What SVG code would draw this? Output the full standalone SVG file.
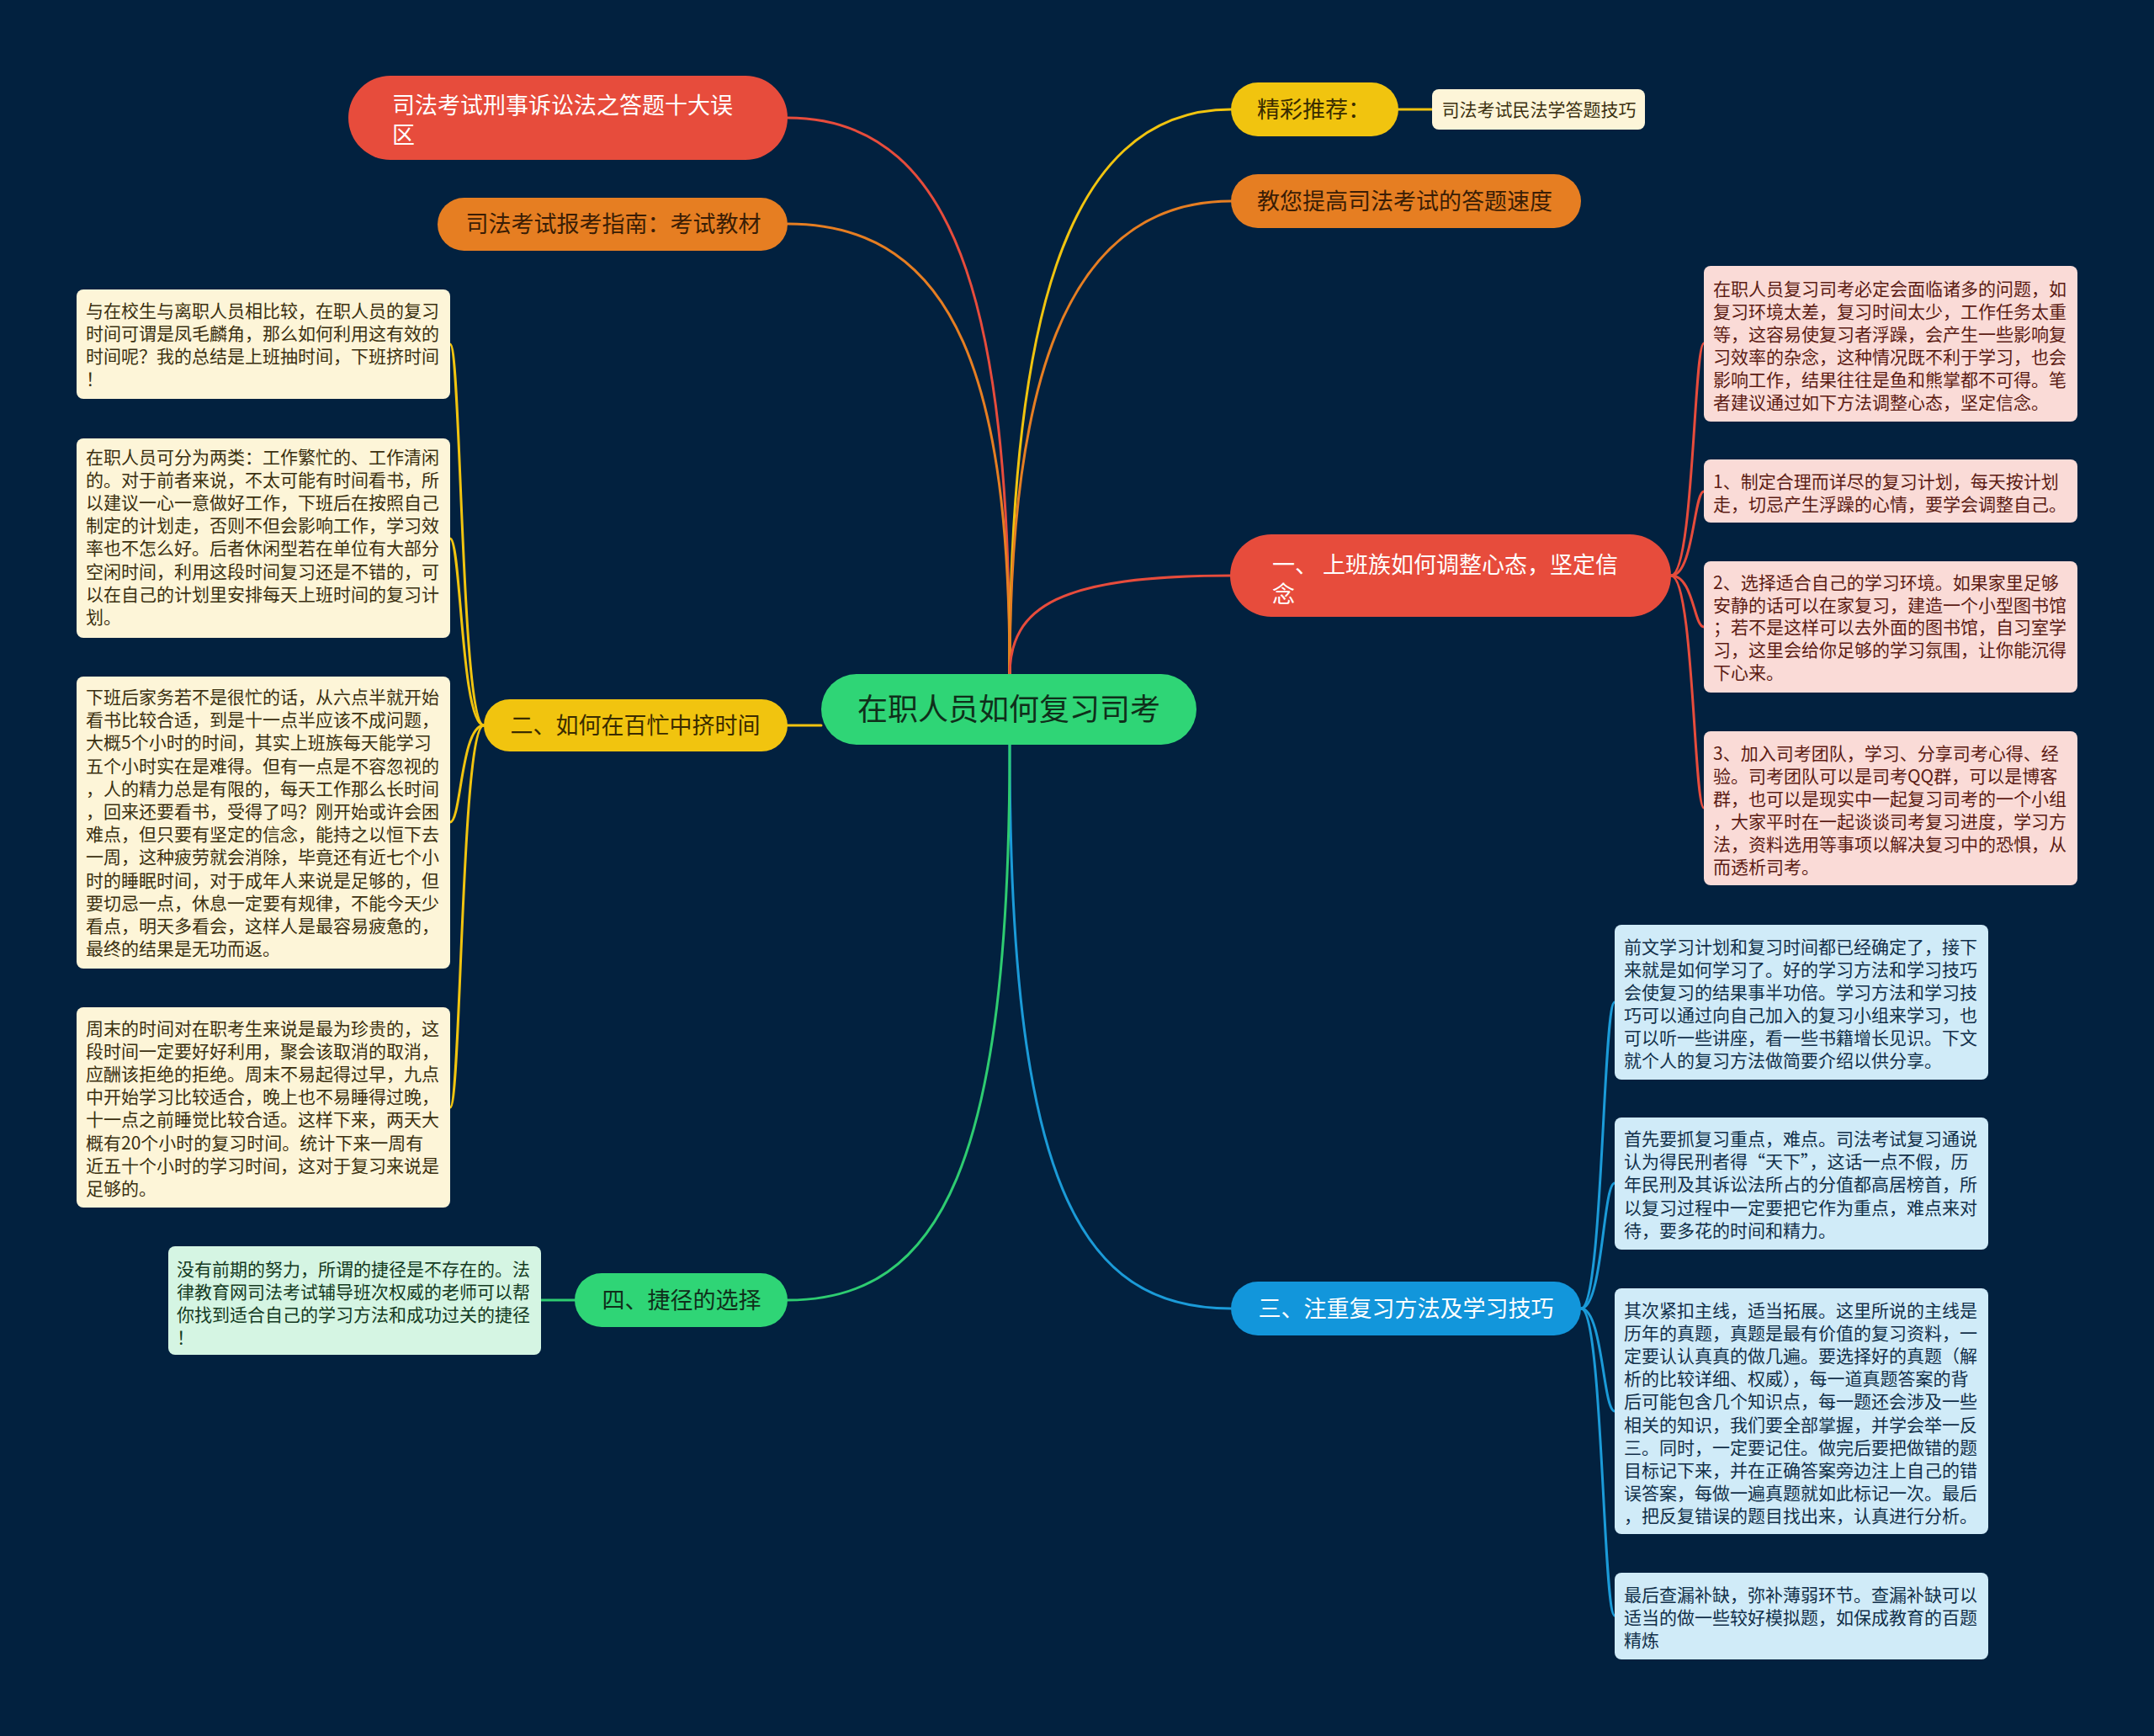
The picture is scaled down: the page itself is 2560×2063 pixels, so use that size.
<svg xmlns="http://www.w3.org/2000/svg" width="2560" height="2063" viewBox="0 0 2560 2063">
<style>
text{font-family:"Noto Sans CJK SC","Noto Sans",sans-serif}
.bg{fill:#02213f}
.c{fill:none;stroke-width:3;stroke-linecap:round}
.red{stroke:#e74c3c}.org{stroke:#e67e22}.yel{stroke:#f1c40f}.blu{stroke:#1b9bd8}.grn{stroke:#2ecc71}
.t27{font-size:27px}
.t21{font-size:21px}
.leafY{fill:#fdf5d8}.leafR{fill:#fadbd7}.leafB{fill:#d0ebf8}.leafG{fill:#d5f5e3}
.tY{fill:#3b3010}.tR{fill:#5c1c14}.tB{fill:#12304a}.tG{fill:#143a22}
</style>
<rect class="bg" x="0" y="0" width="2560" height="2063"/>
<g id="connectors">
<path class="c red" d="M1200 803 C1200 400 1150 140 936 140"/>
<path class="c org" d="M1200 803 C1200 460 1140 266 936 266"/>
<path class="c yel" d="M1200 803 C1200 400 1260 130 1463 130"/>
<path class="c org" d="M1200 803 C1200 470 1260 239 1463 239"/>
<path class="c red" d="M1200 803 C1200 720 1260 684 1463 684"/>
<path class="c yel" d="M936 862 L976 862"/>
<path class="c blu" d="M1200 885 C1200 1400 1280 1555 1463 1555"/>
<path class="c grn" d="M1200 885 C1200 1380 1120 1545 936 1545"/>
<path class="c yel" d="M1662 130 L1702 130"/>
<path class="c grn" d="M683 1545 L643 1545"/>
<path class="c red" d="M1986 684 C2013 684 2013 408 2025 408"/>
<path class="c red" d="M1986 684 C2013 684 2013 584 2025 584"/>
<path class="c red" d="M1986 684 C2013 684 2013 745 2025 745"/>
<path class="c red" d="M1986 684 C2013 684 2013 960 2025 960"/>
<path class="c blu" d="M1879 1555 C1905 1555 1905 1191 1919 1191"/>
<path class="c blu" d="M1879 1555 C1905 1555 1905 1406 1919 1406"/>
<path class="c blu" d="M1879 1555 C1905 1555 1905 1677 1919 1677"/>
<path class="c blu" d="M1879 1555 C1905 1555 1905 1920 1919 1920"/>
<path class="c yel" d="M575 862 C548 862 548 409 535 409"/>
<path class="c yel" d="M575 862 C548 862 548 640 535 640"/>
<path class="c yel" d="M575 862 C548 862 548 977 535 977"/>
<path class="c yel" d="M575 862 C548 862 548 1316 535 1316"/>
</g>
<g id="center">
<rect x="976" y="801" width="446" height="84" rx="42" fill="#2fd576"/>
<text x="1199" y="856" font-size="36" text-anchor="middle" fill="#0f2f1a">在职人员如何复习司考</text>
</g>
<g id="n-left-red">
<rect x="414" y="90" width="522" height="100" rx="50" fill="#e74c3c"/>
<text class="t27" fill="#fff"><tspan x="466" y="135">司法考试刑事诉讼法之答题十大误</tspan><tspan x="466" y="170">区</tspan></text>
</g>
<g id="n-left-orange">
<rect x="520" y="235" width="416" height="63" rx="31.5" fill="#e67e22"/>
<text class="t27" x="729" y="276" text-anchor="middle" fill="#3a1d05">司法考试报考指南：考试教材</text>
</g>
<g id="n-left-yellow">
<rect x="575" y="831" width="361" height="62" rx="31" fill="#f1c40f"/>
<text class="t27" x="755" y="872" text-anchor="middle" fill="#3a2c00">二、如何在百忙中挤时间</text>
</g>
<g id="n-left-green">
<rect x="683" y="1513" width="253" height="64" rx="32" fill="#2fd576"/>
<text class="t27" x="810" y="1555" text-anchor="middle" fill="#0f2f1a">四、捷径的选择</text>
</g>
<g id="n-right-yellow">
<rect x="1463" y="98" width="199" height="64" rx="32" fill="#f1c40f"/>
<text class="t27" x="1494" y="140" fill="#3a2c00">精彩推荐：</text>
</g>
<g id="leaf-recommend">
<rect x="1702" y="106" width="253" height="48" rx="8" class="leafY"/>
<text class="t21 tY" x="1829" y="138" text-anchor="middle">司法考试民法学答题技巧</text>
</g>
<g id="n-right-orange">
<rect x="1463" y="207" width="416" height="64" rx="32" fill="#e67e22"/>
<text class="t27" x="1494" y="249" fill="#3a1d05">教您提高司法考试的答题速度</text>
</g>
<g id="n-right-red">
<rect x="1462" y="635" width="524" height="98" rx="49" fill="#e74c3c"/>
<text class="t27" fill="#fff"><tspan x="1512" y="681">一、 上班族如何调整心态，坚定信</tspan><tspan x="1512" y="716">念</tspan></text>
</g>
<g id="n-right-blue">
<rect x="1463" y="1523" width="416" height="64" rx="32" fill="#1296db"/>
<text class="t27" x="1671" y="1565" text-anchor="middle" fill="#fff">三、注重复习方法及学习技巧</text>
</g>
<g id="leaf-y1">
<rect x="91" y="344" width="444" height="130" rx="8" class="leafY"/>
<text class="t21 tY"><tspan x="102" y="377">与在校生与离职人员相比较，在职人员的复习</tspan><tspan x="102" dy="27">时间可谓是凤毛麟角，那么如何利用这有效的</tspan><tspan x="102" dy="27">时间呢？我的总结是上班抽时间，下班挤时间</tspan><tspan x="102" dy="27">！</tspan></text>
</g>
<g id="leaf-y2">
<rect x="91" y="521" width="444" height="237" rx="8" class="leafY"/>
<text class="t21 tY"><tspan x="102" y="551">在职人员可分为两类：工作繁忙的、工作清闲</tspan><tspan x="102" dy="27.1">的。对于前者来说，不太可能有时间看书，所</tspan><tspan x="102" dy="27.1">以建议一心一意做好工作，下班后在按照自己</tspan><tspan x="102" dy="27.1">制定的计划走，否则不但会影响工作，学习效</tspan><tspan x="102" dy="27.1">率也不怎么好。后者休闲型若在单位有大部分</tspan><tspan x="102" dy="27.1">空闲时间，利用这段时间复习还是不错的，可</tspan><tspan x="102" dy="27.1">以在自己的计划里安排每天上班时间的复习计</tspan><tspan x="102" dy="27.1">划。</tspan></text>
</g>
<g id="leaf-y3">
<rect x="91" y="804" width="444" height="347" rx="8" class="leafY"/>
<text class="t21 tY"><tspan x="102" y="836">下班后家务若不是很忙的话，从六点半就开始</tspan><tspan x="102" dy="27.2">看书比较合适，到是十一点半应该不成问题，</tspan><tspan x="102" dy="27.2">大概5个小时的时间，其实上班族每天能学习</tspan><tspan x="102" dy="27.2">五个小时实在是难得。但有一点是不容忽视的</tspan><tspan x="102" dy="27.2">，人的精力总是有限的，每天工作那么长时间</tspan><tspan x="102" dy="27.2">，回来还要看书，受得了吗？刚开始或许会困</tspan><tspan x="102" dy="27.2">难点，但只要有坚定的信念，能持之以恒下去</tspan><tspan x="102" dy="27.2">一周，这种疲劳就会消除，毕竟还有近七个小</tspan><tspan x="102" dy="27.2">时的睡眠时间，对于成年人来说是足够的，但</tspan><tspan x="102" dy="27.2">要切忌一点，休息一定要有规律，不能今天少</tspan><tspan x="102" dy="27.2">看点，明天多看会，这样人是最容易疲惫的，</tspan><tspan x="102" dy="27.2">最终的结果是无功而返。</tspan></text>
</g>
<g id="leaf-y4">
<rect x="91" y="1197" width="444" height="238" rx="8" class="leafY"/>
<text class="t21 tY"><tspan x="102" y="1230">周末的时间对在职考生来说是最为珍贵的，这</tspan><tspan x="102" dy="27.1">段时间一定要好好利用，聚会该取消的取消，</tspan><tspan x="102" dy="27.1">应酬该拒绝的拒绝。周末不易起得过早，九点</tspan><tspan x="102" dy="27.1">中开始学习比较适合，晚上也不易睡得过晚，</tspan><tspan x="102" dy="27.1">十一点之前睡觉比较合适。这样下来，两天大</tspan><tspan x="102" dy="27.1">概有20个小时的复习时间。统计下来一周有</tspan><tspan x="102" dy="27.1">近五十个小时的学习时间，这对于复习来说是</tspan><tspan x="102" dy="27.1">足够的。</tspan></text>
</g>
<g id="leaf-g1">
<rect x="200" y="1481" width="443" height="129" rx="8" class="leafG"/>
<text class="t21 tG"><tspan x="210" y="1516">没有前期的努力，所谓的捷径是不存在的。法</tspan><tspan x="210" dy="27">律教育网司法考试辅导班次权威的老师可以帮</tspan><tspan x="210" dy="27">你找到适合自己的学习方法和成功过关的捷径</tspan><tspan x="210" dy="27">！</tspan></text>
</g>
<g id="leaf-r1">
<rect x="2025" y="316" width="444" height="185" rx="8" class="leafR"/>
<text class="t21 tR"><tspan x="2036" y="351">在职人员复习司考必定会面临诸多的问题，如</tspan><tspan x="2036" dy="27">复习环境太差，复习时间太少，工作任务太重</tspan><tspan x="2036" dy="27">等，这容易使复习者浮躁，会产生一些影响复</tspan><tspan x="2036" dy="27">习效率的杂念，这种情况既不利于学习，也会</tspan><tspan x="2036" dy="27">影响工作，结果往往是鱼和熊掌都不可得。笔</tspan><tspan x="2036" dy="27">者建议通过如下方法调整心态，坚定信念。</tspan></text>
</g>
<g id="leaf-r2">
<rect x="2025" y="546" width="444" height="75" rx="8" class="leafR"/>
<text class="t21 tR"><tspan x="2036" y="580">1、制定合理而详尽的复习计划，每天按计划</tspan><tspan x="2036" dy="27">走，切忌产生浮躁的心情，要学会调整自己。</tspan></text>
</g>
<g id="leaf-r3">
<rect x="2025" y="667" width="444" height="156" rx="8" class="leafR"/>
<text class="t21 tR"><tspan x="2036" y="700">2、选择适合自己的学习环境。如果家里足够</tspan><tspan x="2036" dy="26.7">安静的话可以在家复习，建造一个小型图书馆</tspan><tspan x="2036" dy="26.7">；若不是这样可以去外面的图书馆，自习室学</tspan><tspan x="2036" dy="26.7">习，这里会给你足够的学习氛围，让你能沉得</tspan><tspan x="2036" dy="26.7">下心来。</tspan></text>
</g>
<g id="leaf-r4">
<rect x="2025" y="869" width="444" height="183" rx="8" class="leafR"/>
<text class="t21 tR"><tspan x="2036" y="903">3、加入司考团队，学习、分享司考心得、经</tspan><tspan x="2036" dy="27">验。司考团队可以是司考QQ群，可以是博客</tspan><tspan x="2036" dy="27">群，也可以是现实中一起复习司考的一个小组</tspan><tspan x="2036" dy="27">，大家平时在一起谈谈司考复习进度，学习方</tspan><tspan x="2036" dy="27">法，资料选用等事项以解决复习中的恐惧，从</tspan><tspan x="2036" dy="27">而透析司考。</tspan></text>
</g>
<g id="leaf-b1">
<rect x="1919" y="1099" width="444" height="184" rx="8" class="leafB"/>
<text class="t21 tB"><tspan x="1930" y="1133">前文学习计划和复习时间都已经确定了，接下</tspan><tspan x="1930" dy="27">来就是如何学习了。好的学习方法和学习技巧</tspan><tspan x="1930" dy="27">会使复习的结果事半功倍。学习方法和学习技</tspan><tspan x="1930" dy="27">巧可以通过向自己加入的复习小组来学习，也</tspan><tspan x="1930" dy="27">可以听一些讲座，看一些书籍增长见识。下文</tspan><tspan x="1930" dy="27">就个人的复习方法做简要介绍以供分享。</tspan></text>
</g>
<g id="leaf-b2">
<rect x="1919" y="1328" width="444" height="157" rx="8" class="leafB"/>
<text class="t21 tB"><tspan x="1930" y="1361">首先要抓复习重点，难点。司法考试复习通说</tspan><tspan x="1930" dy="27.2">认为得民刑者得“天下”，这话一点不假，历</tspan><tspan x="1930" dy="27.2">年民刑及其诉讼法所占的分值都高居榜首，所</tspan><tspan x="1930" dy="27.2">以复习过程中一定要把它作为重点，难点来对</tspan><tspan x="1930" dy="27.2">待，要多花的时间和精力。</tspan></text>
</g>
<g id="leaf-b3">
<rect x="1919" y="1531" width="444" height="292" rx="8" class="leafB"/>
<text class="t21 tB"><tspan x="1930" y="1565">其次紧扣主线，适当拓展。这里所说的主线是</tspan><tspan x="1930" dy="27.1">历年的真题，真题是最有价值的复习资料，一</tspan><tspan x="1930" dy="27.1">定要认认真真的做几遍。要选择好的真题（解</tspan><tspan x="1930" dy="27.1">析的比较详细、权威），每一道真题答案的背</tspan><tspan x="1930" dy="27.1">后可能包含几个知识点，每一题还会涉及一些</tspan><tspan x="1930" dy="27.1">相关的知识，我们要全部掌握，并学会举一反</tspan><tspan x="1930" dy="27.1">三。同时，一定要记住。做完后要把做错的题</tspan><tspan x="1930" dy="27.1">目标记下来，并在正确答案旁边注上自己的错</tspan><tspan x="1930" dy="27.1">误答案，每做一遍真题就如此标记一次。最后</tspan><tspan x="1930" dy="27.1">，把反复错误的题目找出来，认真进行分析。</tspan></text>
</g>
<g id="leaf-b4">
<rect x="1919" y="1869" width="444" height="103" rx="8" class="leafB"/>
<text class="t21 tB"><tspan x="1930" y="1903">最后查漏补缺，弥补薄弱环节。查漏补缺可以</tspan><tspan x="1930" dy="27">适当的做一些较好模拟题，如保成教育的百题</tspan><tspan x="1930" dy="27">精炼</tspan></text>
</g>
</svg>
